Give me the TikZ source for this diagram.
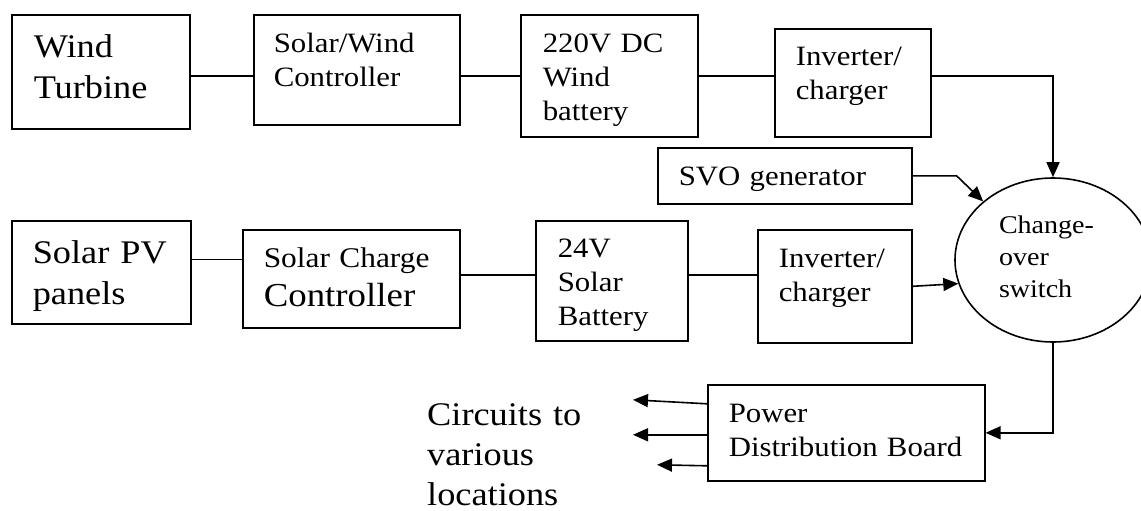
\documentclass[tikz,border=0pt]{standalone}
\usepackage{fontspec}
\setmainfont{Liberation Serif}[FakeStretch=1.1]
\usetikzlibrary{arrows.meta,shapes.geometric}
\tikzset{
  blk/.style={draw, line width=1.6pt, anchor=north west, inner ysep=0pt, align=left},
  txtL/.style={font=\fontsize{33}{41}\selectfont},
  txtM/.style={font=\fontsize{28}{34}\selectfont},
  txtS/.style={font=\fontsize{25.5}{32}\selectfont},
  wire/.style={line width=1.6pt},
  arr/.style={wire, -{Triangle[length=15pt,width=13pt]}},
}

\begin{document}
\begin{tikzpicture}[x=1pt,y=-1pt]
\useasboundingbox (0,0) rectangle (1141,511);
% wind chain
\node[blk, txtL, text width=134pt, inner xsep=22pt, text height=43pt, text depth=71pt] (wt) at (11,14) {Wind\\Turbine};
\node[blk, txtM, text width=166pt, inner xsep=20pt, text height=38pt, text depth=72pt] (swc) at (253,14) {Solar/Wind\\Controller};
\node[blk, txtM, text width=133pt, inner xsep=22pt, text height=38pt, text depth=84pt] (wbat) at (520,14) {220V DC\\Wind\\battery};
\node[blk, txtM, text width=114pt, inner xsep=21pt, text height=37pt, text depth=71pt] (winv) at (774,28) {Inverter/\\charger};
\node[blk, txtM, text width=212pt, inner xsep=21pt, text height=38pt, text depth=18pt] (svo) at (657,147) {SVO generator};
% solar chain
\node[blk, txtL, text width=137pt, inner xsep=21pt, text height=43pt, text depth=60pt] (spv) at (11,220) {Solar PV\\panels};
\node[blk, font=\fontsize{28.5}{39}\selectfont, text width=175pt, inner xsep=21pt, text height=38pt, text depth=60pt] (scc) at (242,229)
  {Solar Charge\\{\fontsize{33.5}{39}\selectfont Controller}};
\node[blk, txtM, text width=108pt, inner xsep=22pt, text height=37pt, text depth=83pt] (sbat) at (535,220) {24V\\Solar\\Battery};
\node[blk, txtM, text width=112pt, inner xsep=21pt, text height=38pt, text depth=75pt] (sinv) at (757,229) {Inverter/\\charger};
% switch and board
\node[ellipse, draw, line width=1.6pt, txtS, align=left, inner sep=0pt, minimum width=196pt, minimum height=164pt,
  text width=108pt, text height=17pt, text depth=70pt] (cos) at (1053,260) {Change-\\over\\switch};
\node[blk, txtM, text width=235pt, inner xsep=21pt, text height=38pt, text depth=58pt] (pdb) at (707,384) {Power\\Distribution Board};
\node[font=\fontsize{33}{40}\selectfont, align=left, text width=170pt, inner sep=0pt, anchor=base west] (loc) at (427,425) {Circuits to\\various\\locations};

\draw[wire] (wt.east |- wbat.east) -- (swc.west |- wbat.east);
\draw[wire] (swc.east |- wbat.east) -- (wbat.west);
\draw[wire] (wbat.east) -- (winv.west |- wbat.east);
\draw[arr] (winv.east |- wbat.east) -| (cos.north);
\draw[arr] (svo.east) -- ++(44,0) -- (cos.140);
\draw[wire] ([yshift=13pt]spv.east) -- ([yshift=13pt]spv.east -| scc.west);
\draw[wire] ([yshift=4pt]scc.east) -- ([yshift=4pt]scc.east -| sbat.west);
\draw[wire] ([yshift=6pt]sbat.east) -- ([yshift=6pt]sbat.east -| sinv.west);
\draw[arr] (sinv.east) -- (cos.194);
\draw[arr] (cos.south) |- (pdb.east);
\foreach \dy/\ex/\ey in {29/-74/-4, -2/-74/0, -33/-50/-1}
  \draw[arr] ([yshift=\dy pt]pdb.west) -- ++(\ex,\ey);
\end{tikzpicture}
\end{document}
